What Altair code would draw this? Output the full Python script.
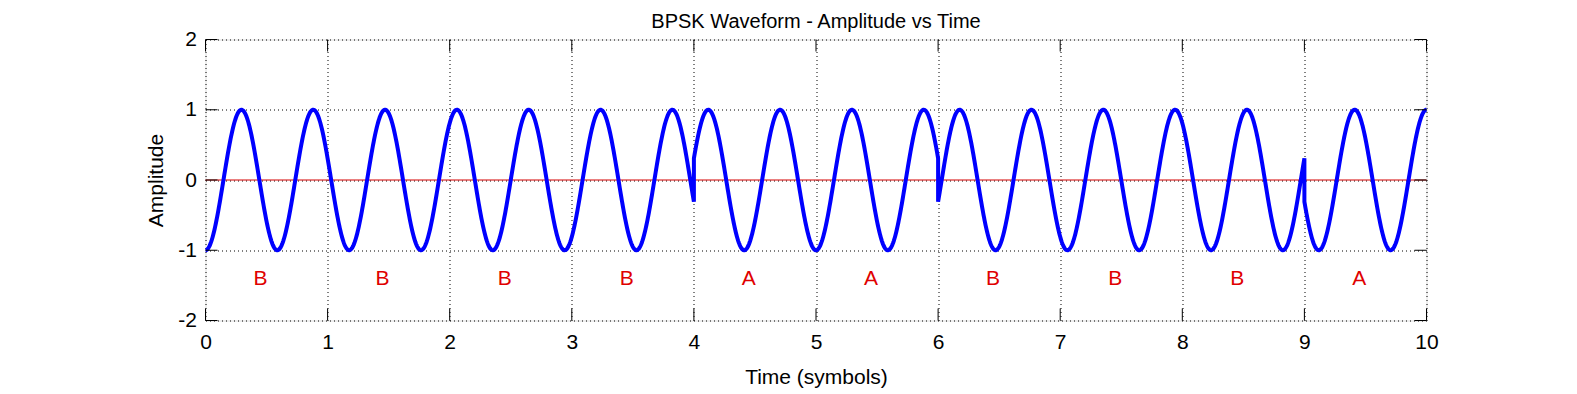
import altair as alt
import numpy as np
import pandas as pd

# ---- data ----
symbols = ["B", "B", "B", "B", "A", "A", "B", "B", "B", "A"]
phase_sign = {"B": -1.0, "A": 1.0}          # A and B are opposite carrier phases
carrier_cycles_per_symbol = 1.7              # ~17 carrier cycles over 10 symbols
samples_per_symbol = 240
label_offset = 0.45                          # label x position inside each symbol
label_y = -1.5
x_ticks = list(range(0, 11))
y_ticks = [-2, -1, 0, 1, 2]

# ---- build waveform table (BPSK signal model) ----
rows = []
order = 0
for i, s in enumerate(symbols):
    t = np.linspace(i, i + 1, samples_per_symbol)
    v = phase_sign[s] * np.cos(2 * np.pi * carrier_cycles_per_symbol * t)
    for tt, vv in zip(t, v):
        rows.append({"t": float(tt), "a": float(vv), "o": order})
        order += 1
wave = pd.DataFrame(rows)

labels = pd.DataFrame({"x": [i + label_offset for i in range(len(symbols))],
                       "y": [label_y] * len(symbols),
                       "s": symbols})

W, H = 1221, 281
FONT = "Liberation Sans"
FS = 21
TL = 12  # inward tick length (px)

xs = alt.Scale(domain=[0, 10], nice=False, zero=False)
ys = alt.Scale(domain=[-2, 2], nice=False, zero=False)

x_axis = alt.Axis(values=x_ticks, labelExpr="'' + datum.value", grid=True,
                  gridColor="black", gridDash=[1, 3], gridOpacity=1, gridWidth=1,
                  domain=False, ticks=False, labelFont=FONT, labelFontSize=FS,
                  labelColor="black", labelPadding=11, labelFlush=False,
                  title="Time (symbols)", titleFont=FONT, titleFontSize=FS,
                  titleFontWeight="normal", titleColor="black", titlePadding=14)
y_axis = alt.Axis(values=y_ticks, labelExpr="'' + datum.value", grid=True,
                  gridColor="black", gridDash=[1, 3], gridOpacity=1, gridWidth=1,
                  domain=False, ticks=False, labelFont=FONT, labelFontSize=FS,
                  labelColor="black", labelPadding=9, labelFlush=False,
                  title="Amplitude", titleFont=FONT, titleFontSize=FS,
                  titleFontWeight="normal", titleColor="black", titlePadding=11)

line = alt.Chart(wave).mark_line(color="#0000ff", strokeWidth=4).encode(
    x=alt.X("t:Q", scale=xs, axis=x_axis),
    y=alt.Y("a:Q", scale=ys, axis=y_axis),
    order="o:Q",
)

zero_line = alt.Chart(pd.DataFrame({"y": [0]})).mark_rule(
    color="#d40000", strokeWidth=1).encode(y=alt.Y("y:Q", scale=ys))

text = alt.Chart(labels).mark_text(
    color="#e00000", font=FONT, fontSize=FS, baseline="alphabetic", align="center"
).encode(x=alt.X("x:Q", scale=xs), y=alt.Y("y:Q", scale=ys), text="s:N")

xt = pd.DataFrame({"x": x_ticks})
yt = pd.DataFrame({"y": y_ticks})
tick_bottom = alt.Chart(xt).mark_rule(color="black", strokeWidth=1).encode(
    x=alt.X("x:Q", scale=xs), y=alt.value(H), y2=alt.value(H - TL))
tick_top = alt.Chart(xt).mark_rule(color="black", strokeWidth=1).encode(
    x=alt.X("x:Q", scale=xs), y=alt.value(0), y2=alt.value(TL))
tick_left = alt.Chart(yt).mark_rule(color="black", strokeWidth=1).encode(
    y=alt.Y("y:Q", scale=ys), x=alt.value(0), x2=alt.value(TL))
tick_right = alt.Chart(yt).mark_rule(color="black", strokeWidth=1).encode(
    y=alt.Y("y:Q", scale=ys), x=alt.value(W), x2=alt.value(W - TL))

chart = alt.layer(
    zero_line, line, text, tick_bottom, tick_top, tick_left, tick_right
).properties(
    width=W, height=H,
    title=alt.TitleParams("BPSK Waveform - Amplitude vs Time", font=FONT,
                          fontSize=20, fontWeight="normal", color="black",
                          anchor="middle", offset=-3),
    autosize=alt.AutoSizeParams(type="none"),
    padding={"left": 197.5, "top": 31.5, "right": 140, "bottom": 70},
).configure_view(
    stroke="black", strokeWidth=1
).configure(background="white")

chart.save("out.html", embed_options={"renderer": "svg", "actions": False})
